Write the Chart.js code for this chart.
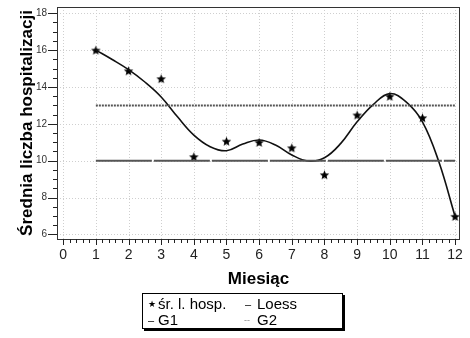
<!DOCTYPE html>
<html>
<head>
<meta charset="utf-8">
<script src="https://cdn.jsdelivr.net/npm/chart.js@4"></script>
<style>
  html, body { margin:0; padding:0; background:#fff; }
  #wrap { position:relative; width:470px; height:338px; }
  #legend { position:absolute; left:142px; top:293px; width:199px; height:34px; border:1px solid #000;
            box-shadow:2px 2px 0 #000; background:#fff; font-family:"Liberation Sans", Arial, sans-serif; font-size:15px; color:#000; }
  #legend span { position:absolute; white-space:nowrap; line-height:16px; }
  #legend .dash { font-size:11px; }
</style>
</head>
<body>
<div id="wrap">
  <canvas id="c" width="470" height="338"></canvas>
  <div id="legend">
    <span style="left:5px;top:2px;font-size:9px;">★</span>
    <span style="left:15px;top:2px;">śr. l. hosp.</span>
    <span class="dash" style="left:102px;top:2px;">–</span>
    <span style="left:114px;top:2px;">Loess</span>
    <span class="dash" style="left:5px;top:18px;">–</span>
    <span style="left:15px;top:18px;">G1</span>
    <span style="left:101px;top:18px;color:#888;font-size:9px;">--</span>
    <span style="left:114px;top:18px;">G2</span>
  </div>
</div>
<script>
// ---- data ----
const months  = [1, 2, 3, 4, 5, 6, 7, 8, 9, 10, 11, 12];
const avgHosp = [16.0, 14.88, 14.45, 10.22, 11.06, 11.0, 10.7, 9.24, 12.48, 13.5, 12.33, 6.98];
const loessX  = [1, 1.5, 2, 2.5, 3, 3.5, 4, 4.5, 5, 5.5, 6, 6.5, 7, 7.5, 8, 8.5, 9, 9.5, 10, 10.5, 11, 11.5, 12];
const loessY  = [16.0, 15.49, 14.94, 14.27, 13.46, 12.38, 11.39, 10.76, 10.54, 10.9, 11.12, 10.85, 10.31, 9.98, 10.16, 10.94, 12.11, 13.06, 13.64, 13.19, 12.11, 9.95, 6.97];
const gX      = [1, 12];
const g1      = [10, 10];
const g2      = [13, 13];
const xTicks  = [0, 1, 2, 3, 4, 5, 6, 7, 8, 9, 10, 11, 12];
const yTicks  = [6, 8, 10, 12, 14, 16, 18];
const xMinorStep = 0.2;
const yMinorStep = 0.5;

const FONT = '"Liberation Sans", Arial, sans-serif';

function starImage() {
  const s = 11, c = document.createElement('canvas');
  c.width = s; c.height = s;
  const g = c.getContext('2d');
  g.fillStyle = '#000';
  g.beginPath();
  for (let i = 0; i < 10; i++) {
    const r = i % 2 === 0 ? 5 : 2.2;
    const a = -Math.PI / 2 + i * Math.PI / 5;
    const px = s / 2 + r * Math.cos(a), py = s / 2 + 0.5 + r * Math.sin(a);
    if (i === 0) g.moveTo(px, py); else g.lineTo(px, py);
  }
  g.closePath(); g.fill();
  return c;
}

const decor = {
  id: 'decor',
  beforeDatasetsDraw(chart) {
    const {ctx, chartArea: a, scales: {x, y}} = chart;
    ctx.save();
    ctx.strokeStyle = '#cfcfcf';
    ctx.lineWidth = 1;
    ctx.setLineDash([1, 2]);
    xTicks.forEach(v => {
      const px = Math.round(x.getPixelForValue(v)) + 0.5;
      ctx.beginPath(); ctx.moveTo(px, a.top); ctx.lineTo(px, a.bottom); ctx.stroke();
    });
    yTicks.forEach(v => {
      const py = Math.round(y.getPixelForValue(v)) + 0.5;
      ctx.beginPath(); ctx.moveTo(a.left, py); ctx.lineTo(a.right, py); ctx.stroke();
    });
    ctx.restore();
  },
  afterDraw(chart) {
    const {ctx, chartArea: a, scales: {x, y}} = chart;
    ctx.save();
    ctx.setLineDash([]);
    ctx.strokeStyle = '#333';
    ctx.lineWidth = 1;
    ctx.strokeRect(Math.round(a.left) + 0.5, Math.round(a.top) + 0.5,
                   Math.round(a.right - a.left) - 1, Math.round(a.bottom - a.top));
    ctx.strokeStyle = '#222';
    for (let v = xTicks[0]; v <= xTicks[xTicks.length - 1] + 1e-9; v += xMinorStep) {
      const major = Math.abs(v - Math.round(v)) < 1e-6;
      const px = Math.round(x.getPixelForValue(v)) + 0.5;
      ctx.beginPath(); ctx.moveTo(px, a.bottom); ctx.lineTo(px, a.bottom + (major ? 6 : 4)); ctx.stroke();
    }
    for (let v = yTicks[0]; v <= yTicks[yTicks.length - 1] + 1e-9; v += yMinorStep) {
      const major = Math.abs(v / 2 - Math.round(v / 2)) < 1e-6;
      const py = Math.round(y.getPixelForValue(v)) + 0.5;
      ctx.beginPath(); ctx.moveTo(a.left, py); ctx.lineTo(a.left - (major ? 9 : 4), py); ctx.stroke();
    }
    ctx.fillStyle = '#000';
    ctx.font = 'bold 17px ' + FONT;
    ctx.textAlign = 'center';
    ctx.textBaseline = 'middle';
    ctx.fillText('Miesiąc', (a.left + a.right) / 2, 279);
    ctx.translate(27, (a.top + a.bottom) / 2);
    ctx.rotate(-Math.PI / 2);
    ctx.fillText('Średnia liczba hospitalizacji', 0, 0);
    ctx.restore();
  }
};

new Chart(document.getElementById('c'), {
  type: 'line',
  data: {
    datasets: [
      {
        label: 'G1',
        data: gX.map((v, i) => ({x: v, y: g1[i]})),
        borderColor: '#555', borderWidth: 2, borderDash: [56, 2],
        pointRadius: 0, tension: 0, fill: false
      },
      {
        label: 'G2',
        data: gX.map((v, i) => ({x: v, y: g2[i]})),
        borderColor: '#555', borderWidth: 2, borderDash: [2, 1],
        pointRadius: 0, tension: 0, fill: false
      },
      {
        label: 'Loess',
        data: loessX.map((v, i) => ({x: v, y: loessY[i]})),
        borderColor: '#111', borderWidth: 1.6,
        pointRadius: 0, tension: 0.4, fill: false
      },
      {
        label: 'śr. l. hosp.',
        data: months.map((m, i) => ({x: m, y: avgHosp[i]})),
        showLine: false,
        pointStyle: starImage(),
        pointRadius: 5
      }
    ]
  },
  options: {
    responsive: false,
    animation: false,
    events: [],
    layout: { padding: { top: 7, right: 10, left: 0, bottom: 0 } },
    plugins: { legend: { display: false }, tooltip: { enabled: false } },
    scales: {
      x: {
        type: 'linear', min: -0.19, max: 12.15,
        afterBuildTicks: s => { s.ticks = xTicks.map(v => ({value: v})); },
        afterFit: s => { s.height = 99; s.paddingLeft = 0; s.paddingRight = 0; },
        grid: { display: false, drawTicks: false },
        border: { display: false },
        ticks: { padding: 8, autoSkip: false, maxRotation: 0, color: '#222',
                 font: { family: FONT, size: 14 } }
      },
      y: {
        type: 'linear', min: 5.75, max: 18.34,
        afterBuildTicks: s => { s.ticks = yTicks.map(v => ({value: v})); },
        afterFit: s => { s.width = 57; s.paddingTop = 0; s.paddingBottom = 0; },
        grid: { display: false, drawTicks: false },
        border: { display: false },
        ticks: { padding: 10, color: '#333', font: { family: FONT, size: 10 } }
      }
    }
  },
  plugins: [decor]
});
</script>
</body>
</html>
